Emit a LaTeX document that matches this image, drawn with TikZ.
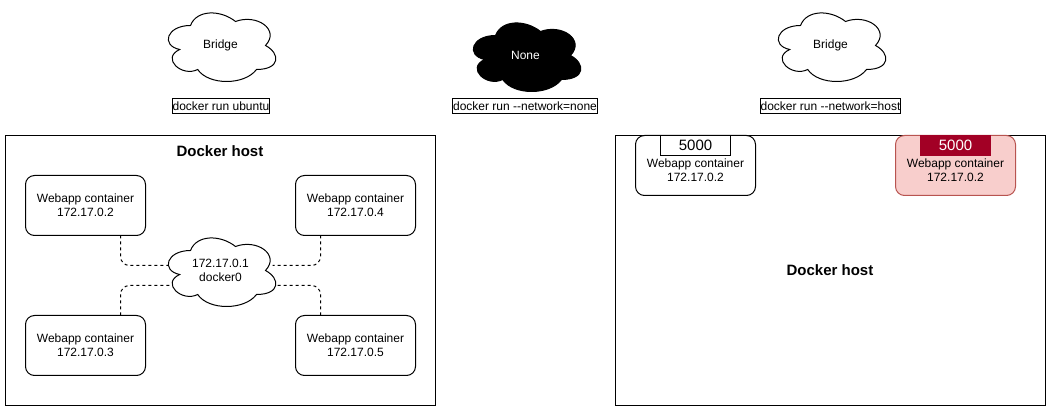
\documentclass[tikz,border=0pt]{standalone}
\usepackage{fontspec}
\setmainfont{Liberation Sans}
\definecolor{pinkfill}{HTML}{F8CECC}
\definecolor{pinkline}{HTML}{B85450}
\definecolor{portred}{HTML}{A20025}
\tikzset{
  every node/.style={font=\fontsize{12}{14}\selectfont, align=center, inner sep=0pt, outer sep=0pt},
  hostbox/.style={draw=black, line width=1pt, minimum width=430pt, minimum height=270pt},
  titletext/.style={font=\fontsize{15}{18}\selectfont\bfseries},
  webbox/.style={draw=black, line width=1pt, rounded corners=9pt, minimum width=120pt, minimum height=60pt, fill=white},
  pinkbox/.style={webbox, draw=pinkline, fill=pinkfill},
  portbox/.style={draw=black, line width=1pt, minimum width=70pt, minimum height=20pt, fill=white, font=\fontsize{15}{18}\selectfont},
  redport/.style={portbox, draw=portred, fill=portred, text=white},
  cmdbox/.style={draw=black, line width=1pt, inner xsep=0.5pt, minimum height=15pt},
  link/.style={draw=black, line width=1pt, dash pattern=on 3pt off 3pt, rounded corners=9pt},
  cloudline/.style={line width=1pt, draw=black},
}
% cloud: #1 centre, #2 style, #3 name, #4 text
\newcommand{\cloudshape}[4]{%
  \begin{scope}[shift={#1}, x=120pt, y=-80pt]
    \draw[cloudline, #2] (-.25,-.25) .. controls (-.45,-.25) and (-.5,0) .. (-.34,.05)
      .. controls (-.5,.16) and (-.32,.4) .. (-.19,.3)
      .. controls (-.1,.5) and (.2,.5) .. (.3,.3)
      .. controls (.5,.3) and (.5,.1) .. (.375,0)
      .. controls (.5,-.2) and (.3,-.4) .. (.125,-.3)
      .. controls (0,-.45) and (-.2,-.45) .. (-.25,-.25) -- cycle;
  \end{scope}
  \node[#2, draw=none, fill=none] (#3) at #1 {#4};
}
\begin{document}
\begin{tikzpicture}[x=1pt, y=-1pt]
\useasboundingbox (0,0) rectangle (1052,411);
\fill[white] (0,0) rectangle (1052,411);

\cloudshape{(220.5,45.5)}{fill=white}{bridgeA}{Bridge}
\cloudshape{(525.5,55.5)}{fill=black, text=white}{none}{None}
\cloudshape{(830.5,45.5)}{fill=white}{bridgeB}{Bridge}

\node[cmdbox] (cmdA) at (221,106) {docker run ubuntu};
\node[cmdbox] (cmdB) at (525,106) {docker run -{}-network=none};
\node[cmdbox] (cmdC) at (830.5,106) {docker run -{}-network=host};

\node[hostbox] (hostA) at (220.5,270.5) {};
\node[titletext] (hostAt) at (220,151) {Docker host};
\node[hostbox] (hostB) at (830.5,270.5) {};
\node[titletext] (hostBt) at (830,270) {Docker host};

\node[webbox] (w2) at (85.5,205.5) {Webapp container\\172.17.0.2};
\node[webbox] (w4) at (355.5,205.5) {Webapp container\\172.17.0.4};
\node[webbox] (w3) at (85.5,345.5) {Webapp container\\172.17.0.3};
\node[webbox] (w5) at (355.5,345.5) {Webapp container\\172.17.0.5};

\cloudshape{(220.5,270.5)}{fill=white}{dock}{172.17.0.1\\docker0}

\draw[link] ([xshift=35pt]w2.south) |- ([xshift=-52pt,yshift=5pt]dock.center);
\draw[link] ([xshift=35pt]w3.north) |- ([xshift=-48pt,yshift=-15pt]dock.center);
\draw[link] ([xshift=-35pt]w4.south) |- ([xshift=52pt,yshift=5pt]dock.center);
\draw[link] ([xshift=-35pt]w5.north) |- ([xshift=57pt,yshift=-15pt]dock.center);

\node[webbox] (r1) at (695.5,165.5) {};
\node (r1t) at (695.5,170) {Webapp container\\172.17.0.2};
\node[portbox] (p1) at (695.5,145.5) {5000};
\node[pinkbox] (r2) at (955.5,165.5) {};
\node (r2t) at (955.5,170) {Webapp container\\172.17.0.2};
\node[redport] (p2) at (955.5,145.5) {5000};
\end{tikzpicture}
\end{document}
